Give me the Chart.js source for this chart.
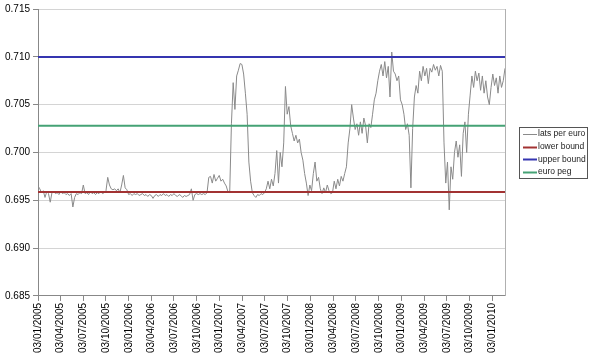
<!DOCTYPE html>
<html>
<head>
<meta charset="utf-8">
<script src="https://cdn.jsdelivr.net/npm/chart.js@4"></script>
<style>
  html, body { margin: 0; padding: 0; background: #fff; }
  #wrap { width: 590px; height: 355px; }
</style>
</head>
<body>
<div id="wrap"><canvas id="myChart" width="590" height="355"></canvas></div>
<script>
// dados: taxa semanal lats por euro, a partir de 03/01/2005
const startDate = '03/01/2005';
const stepDays = 7;
const latsPerEuro = [
    0.6965, 0.6962, 0.6958, 0.6960, 0.6953, 0.6959, 0.6957, 0.6948, 0.6958, 0.6959,
    0.6957, 0.6958, 0.6956, 0.6959, 0.6957, 0.6958, 0.6956, 0.6957, 0.6955, 0.6957,
    0.6943, 0.6953, 0.6957, 0.6956, 0.6958, 0.6957, 0.6966, 0.6957, 0.6958, 0.6956,
    0.6959, 0.6957, 0.6958, 0.6956, 0.6958, 0.6957, 0.6959, 0.6957, 0.6958, 0.6960,
    0.6974, 0.6966, 0.6962, 0.6961, 0.6962, 0.6960, 0.6962, 0.6958, 0.6966, 0.6976,
    0.6963, 0.6961, 0.6956, 0.6957, 0.6955, 0.6957, 0.6956, 0.6957, 0.6955, 0.6956,
    0.6957, 0.6955, 0.6956, 0.6954, 0.6956, 0.6955, 0.6952, 0.6955, 0.6956, 0.6954,
    0.6956, 0.6955, 0.6957, 0.6955, 0.6956, 0.6954, 0.6956, 0.6955, 0.6957, 0.6955,
    0.6954, 0.6956, 0.6955, 0.6953, 0.6955, 0.6954, 0.6955, 0.6956, 0.6962, 0.6950,
    0.6956, 0.6957, 0.6956, 0.6957, 0.6956, 0.6957, 0.6956, 0.6958, 0.6974, 0.6975,
    0.6968, 0.6977, 0.6970, 0.6973, 0.6976, 0.6970, 0.6972, 0.6968, 0.6965, 0.6959,
    0.6958, 0.7030, 0.7073, 0.7045, 0.7080, 0.7086, 0.7093, 0.7092, 0.7082, 0.7062,
    0.7040, 0.6990, 0.6970, 0.6958, 0.6955, 0.6953, 0.6956, 0.6955, 0.6957, 0.6956,
    0.6958, 0.6962, 0.6970, 0.6962, 0.6972, 0.6965, 0.6978, 0.7002, 0.6968, 0.7000,
    0.6985, 0.7010, 0.7069, 0.7040, 0.7048, 0.7028, 0.7020, 0.7012, 0.7018, 0.7010,
    0.7014, 0.7000, 0.6992, 0.6978, 0.6968, 0.6955, 0.6966, 0.6960, 0.6978, 0.6990,
    0.6970, 0.6974, 0.6962, 0.6957, 0.6963, 0.6958, 0.6966, 0.6960, 0.6957, 0.6958,
    0.6970, 0.6962, 0.6972, 0.6965, 0.6975, 0.6970, 0.6978, 0.6985, 0.7010, 0.7025,
    0.7050, 0.7036, 0.7024, 0.7030, 0.7018, 0.7032, 0.7020, 0.7036, 0.7028, 0.7010,
    0.7030, 0.7026, 0.7040, 0.7055, 0.7062, 0.7075, 0.7085, 0.7092, 0.7080, 0.7095,
    0.7078, 0.7090, 0.7058, 0.7105, 0.7085, 0.7082, 0.7075, 0.7080, 0.7055, 0.7050,
    0.7040, 0.7024, 0.7030, 0.7018, 0.6963, 0.7025, 0.7058, 0.7070, 0.7062, 0.7085,
    0.7075, 0.7090, 0.7080, 0.7088, 0.7072, 0.7088, 0.7084, 0.7092, 0.7086, 0.7090,
    0.7080, 0.7091, 0.7085, 0.7010, 0.6968, 0.6990, 0.6940, 0.6985, 0.6972, 0.7000,
    0.7012, 0.6995, 0.7008, 0.6975, 0.7020, 0.7032, 0.7000, 0.7040, 0.7060, 0.7080,
    0.7068, 0.7085, 0.7075, 0.7083, 0.7065, 0.7080, 0.7062, 0.7075, 0.7058, 0.7050,
    0.7068, 0.7082, 0.7070, 0.7078, 0.7062, 0.7080, 0.7068, 0.7075, 0.7088
];
const lowerBound = 0.69588;
const upperBound = 0.70999;
const euroPeg = 0.702804;
const seriesNames = ['lats per euro', 'lower bound', 'upper bound', 'euro peg'];
const quarterLabels = [
    '03/01/2005', '03/04/2005', '03/07/2005', '03/10/2005',
    '03/01/2006', '03/04/2006', '03/07/2006', '03/10/2006',
    '03/01/2007', '03/04/2007', '03/07/2007', '03/10/2007',
    '03/01/2008', '03/04/2008', '03/07/2008', '03/10/2008',
    '03/01/2009', '03/04/2009', '03/07/2009', '03/10/2009',
    '03/01/2010'
];
const yTicks = [0.685, 0.690, 0.695, 0.700, 0.705, 0.710, 0.715];

// converte dd/mm/aaaa em dias desde a data inicial
function diasDesde(txt) {
    const p = txt.split('/');
    const s = startDate.split('/');
    const d = Date.UTC(+p[2], +p[1] - 1, +p[0]);
    const d0 = Date.UTC(+s[2], +s[1] - 1, +s[0]);
    return Math.round((d - d0) / 86400000);
}

const quarterDays = quarterLabels.map(diasDesde);
const ratePoints = latsPerEuro.map((v, i) => ({ x: i * stepDays, y: v }));
const lastDay = (latsPerEuro.length - 1) * stepDays;
const linha = (v) => [{ x: 0, y: v }, { x: lastDay, y: v }];

const fonte = { family: 'Liberation Sans, Arial, sans-serif', size: 10 };

// legenda com caixa, como no Excel
const legendaBox = {
    id: 'legendaBox',
    afterDraw(chart) {
        const ctx = chart.ctx;
        const area = chart.chartArea;
        const w = 68, h = 51;
        const x0 = area.right + 14;
        const y0 = Math.round((area.top + area.bottom) / 2 - h / 2) + 0.5;
        ctx.save();
        ctx.fillStyle = '#fff';
        ctx.fillRect(x0, y0, w, h);
        ctx.strokeStyle = '#555';
        ctx.lineWidth = 1;
        ctx.strokeRect(x0 + 0.5, y0, w, h);
        ctx.font = '8.5px ' + fonte.family;
        ctx.textBaseline = 'middle';
        chart.data.datasets.forEach((ds, i) => {
            const y = y0 + 6.5 + i * 12.7;
            ctx.strokeStyle = ds.borderColor;
            ctx.lineWidth = ds.borderWidth;
            ctx.beginPath();
            ctx.moveTo(x0 + 4, Math.round(y) + 0.5);
            ctx.lineTo(x0 + 18, Math.round(y) + 0.5);
            ctx.stroke();
            ctx.fillStyle = '#222';
            ctx.fillText(ds.label, x0 + 19, y);
        });
        ctx.restore();
    },
    beforeDatasetsDraw(chart) {
        const ctx = chart.ctx;
        const a = chart.chartArea;
        ctx.save();
        ctx.strokeStyle = '#b0b0b0';
        ctx.lineWidth = 1;
        ctx.beginPath();
        ctx.moveTo(Math.round(a.right) + 0.5, a.top);
        ctx.lineTo(Math.round(a.right) + 0.5, a.bottom);
        ctx.stroke();
        ctx.restore();
    }
};

const ctx = document.getElementById('myChart').getContext('2d');
const myChart = new Chart(ctx, {
    type: 'line',
    data: {
        datasets: [{
            label: seriesNames[0],
            data: ratePoints,
            borderColor: '#8a8a8a',
            borderWidth: 1,
            order: 2
        }, {
            label: seriesNames[1],
            data: linha(lowerBound),
            borderColor: '#a23232',
            borderWidth: 2,
            order: 1
        }, {
            label: seriesNames[2],
            data: linha(upperBound),
            borderColor: '#3535b0',
            borderWidth: 2,
            order: 1
        }, {
            label: seriesNames[3],
            data: linha(euroPeg),
            borderColor: '#45a275',
            borderWidth: 2,
            order: 1
        }]
    },
    options: {
        responsive: false,
        animation: false,
        devicePixelRatio: 1,
        elements: {
            point: { radius: 0 },
            line: { tension: 0 }
        },
        layout: {
            padding: { top: 4, right: 85, bottom: 0, left: 2 }
        },
        plugins: {
            legend: { display: false },
            tooltip: { enabled: false }
        },
        scales: {
            x: {
                type: 'linear',
                min: 0,
                max: lastDay,
                afterBuildTicks: (axis) => {
                    axis.ticks = quarterDays.map(v => ({ value: v }));
                },
                ticks: {
                    autoSkip: false,
                    minRotation: 90,
                    maxRotation: 90,
                    padding: 2,
                    color: '#000',
                    font: fonte,
                    callback: (value) => quarterLabels[quarterDays.indexOf(value)] || ''
                },
                grid: {
                    drawOnChartArea: false,
                    drawTicks: true,
                    tickLength: 5,
                    color: '#888'
                },
                border: { color: '#888' }
            },
            y: {
                min: 0.685,
                max: 0.715,
                afterBuildTicks: (axis) => {
                    axis.ticks = yTicks.map(v => ({ value: v }));
                },
                ticks: {
                    padding: 3,
                    color: '#000',
                    font: fonte,
                    callback: (value) => value.toFixed(3)
                },
                grid: {
                    color: '#d4d4d4',
                    tickColor: '#888',
                    tickLength: 5
                },
                border: { color: '#888' }
            }
        }
    },
    plugins: [legendaBox]
});
</script>
</body>
</html>
